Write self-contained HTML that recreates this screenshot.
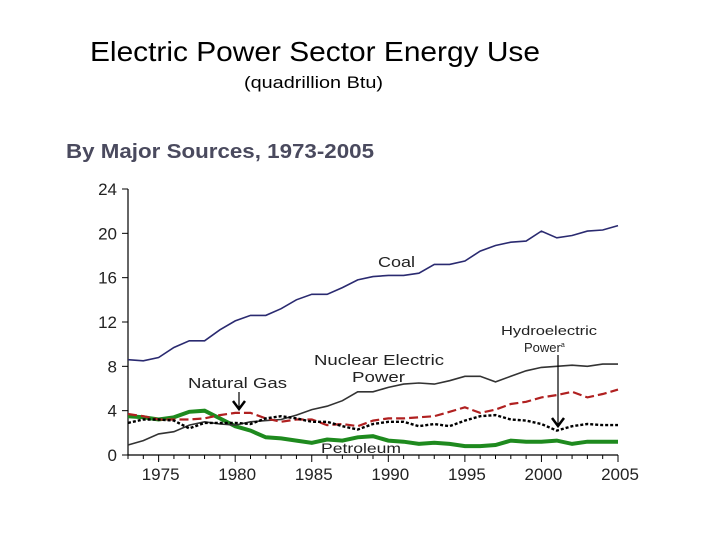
<!DOCTYPE html>
<html><head><meta charset="utf-8"><style>
body{margin:0;width:720px;height:540px;background:#fff;overflow:hidden;font-family:"Liberation Sans",sans-serif}
</style></head><body>
<svg width="720" height="540" viewBox="0 0 720 540">
<text x="90" y="61" font-size="28" textLength="450" lengthAdjust="spacingAndGlyphs" fill="#000">Electric Power Sector Energy Use</text>
<text x="244" y="88" font-size="17" textLength="139" lengthAdjust="spacingAndGlyphs" fill="#000">(quadrillion Btu)</text>
<text x="66" y="158" font-size="20" font-weight="bold" textLength="308" lengthAdjust="spacingAndGlyphs" fill="#4a4a5e">By Major Sources, 1973-2005</text>
<g id="axes"></g>
<g id="series"></g>
<g font-size="15" fill="#222">
<text x="378" y="267" textLength="37" lengthAdjust="spacingAndGlyphs">Coal</text>
<text x="314" y="365" textLength="130" lengthAdjust="spacingAndGlyphs">Nuclear Electric</text>
<text x="352" y="382" textLength="53" lengthAdjust="spacingAndGlyphs">Power</text>
<text x="188" y="388" textLength="99" lengthAdjust="spacingAndGlyphs">Natural Gas</text>
<text x="501" y="335" font-size="13" textLength="96" lengthAdjust="spacingAndGlyphs">Hydroelectric</text>
<text x="524" y="352" font-size="13">Power<tspan font-size="7" dy="-5">a</tspan></text>
<text x="321" y="453" font-size="14" textLength="80" lengthAdjust="spacingAndGlyphs">Petroleum</text>
</g>
<g stroke="#000" stroke-width="1.2" fill="none">
<line x1="239" y1="392" x2="239" y2="407"/>
<path d="M233 401 L239 409 L245 401" stroke-width="2.5"/>
<line x1="558" y1="355" x2="558" y2="426"/>
<path d="M552 418 L558 426 L564 418" stroke-width="2.5"/>
</g>
</svg>
<script>
const years=[];for(let y=1973;y<=2005;y++)years.push(y);
const coal=[8.6,8.5,8.8,9.7,10.3,10.3,11.3,12.1,12.6,12.6,13.2,14.0,14.5,14.5,15.1,15.8,16.1,16.2,16.2,16.4,17.2,17.2,17.5,18.4,18.9,19.2,19.3,20.2,19.6,19.8,20.2,20.3,20.7];
const nuclear=[0.9,1.3,1.9,2.1,2.7,3.0,2.8,2.7,3.0,3.1,3.2,3.6,4.1,4.4,4.9,5.7,5.7,6.1,6.4,6.5,6.4,6.7,7.1,7.1,6.6,7.1,7.6,7.9,8.0,8.1,8.0,8.2,8.2];
const gas=[3.7,3.5,3.2,3.2,3.2,3.3,3.6,3.8,3.8,3.3,3.0,3.2,3.2,2.7,2.8,2.6,3.1,3.3,3.3,3.4,3.5,3.9,4.3,3.8,4.1,4.6,4.8,5.2,5.4,5.7,5.2,5.5,5.9];
const hydro=[2.9,3.2,3.2,3.1,2.4,2.9,2.9,2.9,2.8,3.3,3.5,3.3,3.0,3.0,2.6,2.3,2.8,3.0,3.0,2.6,2.8,2.6,3.1,3.5,3.6,3.2,3.1,2.8,2.2,2.6,2.8,2.7,2.7];
const petroleum=[3.5,3.4,3.2,3.4,3.9,4.0,3.3,2.6,2.2,1.6,1.5,1.3,1.1,1.4,1.3,1.6,1.7,1.3,1.2,1.0,1.1,1.0,0.8,0.8,0.9,1.3,1.2,1.2,1.3,1.0,1.2,1.2,1.2];
const yTicks=[0,4,8,12,16,20,24];
const xTicks=[1975,1980,1985,1990,1995,2000,2005];
const NS="http://www.w3.org/2000/svg";
const X=y=>128+(y-1973)*(490/32);
const Y=v=>455-v*(266/24);
const ax=document.getElementById('axes'),sr=document.getElementById('series');
function mk(tag,attrs,parent){const e=document.createElementNS(NS,tag);for(const k in attrs)e.setAttribute(k,attrs[k]);parent.appendChild(e);return e;}
let e=mk('line',{x1:128,y1:Y(24),x2:128,y2:455,stroke:'#000','stroke-width':1.2},ax);


e=mk('line',{x1:128,y1:455,x2:618,y2:455,stroke:'#000','stroke-width':1.2},ax);


yTicks.forEach(t=>{
 mk('line',{x1:122,x2:128,y1:Y(t),y2:Y(t),stroke:'#000'},ax);
 const tx=mk('text',{x:117,y:Y(t)+6,'text-anchor':'end','font-size':17,fill:'#222'},ax);tx.textContent=t;
 
 
});
years.forEach(y=>{mk('line',{x1:X(y),x2:X(y),y1:455,y2:(y%5==0?462:459),stroke:'#000'},ax);});
xTicks.forEach(t=>{
 const tx=mk('text',{x:X(t)+2,y:480,'text-anchor':'middle','font-size':17,fill:'#222'},ax);tx.textContent=t;
 
 
});
function line(vals,stroke,w,dash,name){
 const d=vals.map((v,i)=>(i?'L':'M')+X(years[i]).toFixed(1)+' '+Y(v).toFixed(1)).join(' ');
 const p=mk('path',{d:d,fill:'none',stroke:stroke,'stroke-width':w},sr);
 if(dash)p.setAttribute('stroke-dasharray',dash);
 
 
}
line(petroleum,'#1e8a1e',4,null,'petroleum-line');
line(nuclear,'#333',1.6,null,'nuclear-line');
line(gas,'#b02020',2.2,'9,4','natural-gas-line');
line(hydro,'#000',2.4,'3,2','hydro-line');
line(coal,'#2a2a70',1.6,null,'coal-line');
</script>
</body></html>
